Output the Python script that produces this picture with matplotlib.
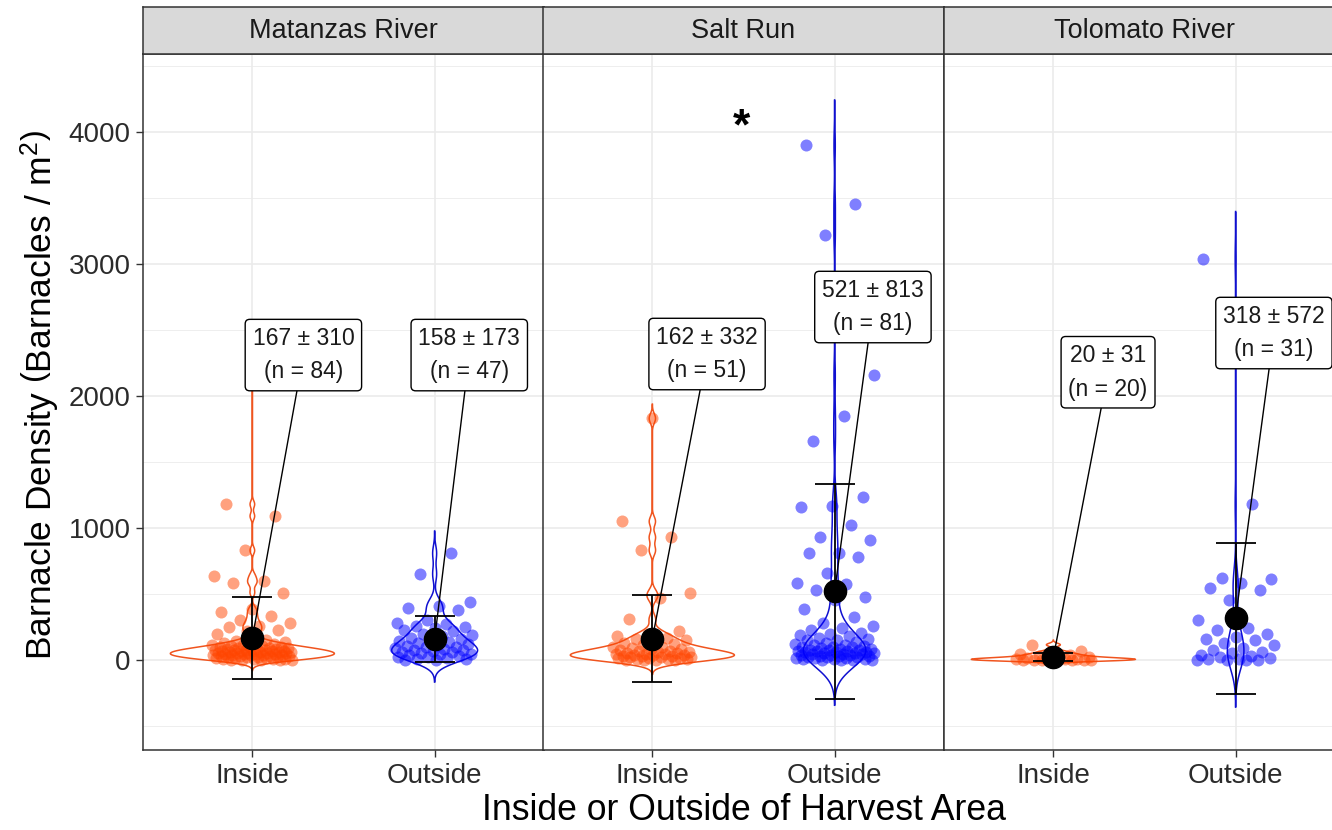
import numpy as np
import matplotlib
matplotlib.use("Agg")
import matplotlib.pyplot as plt

plt.rcParams['font.family'] = ['Liberation Sans', 'DejaVu Sans']
plt.rcParams['mathtext.fontset'] = 'custom'
plt.rcParams['mathtext.rm'] = 'Liberation Sans'
plt.rcParams['mathtext.it'] = 'Liberation Sans:italic'

rivers = ["Matanzas River", "Salt Run", "Tolomato River"]
areas = ["Inside", "Outside"]

# barnacle densities read off the jittered points (approximate)
matanzas_inside = [2250, 1180, 1090, 830, 640, 600, 580, 510, 390, 360, 330, 300, 280, 260,
                   250, 230, 220, 200,
                   0, 0, 0, 0, 3, 5, 8, 10, 10, 12, 15, 18, 20, 20, 22, 25, 28, 30, 30, 32,
                   35, 36, 38, 40, 40, 42, 45, 46, 48, 50, 50, 52, 55, 56, 58, 60, 60, 62,
                   65, 66, 68, 70, 70, 72, 75, 76, 78, 80, 82, 85, 88, 90, 92, 95, 98, 100,
                   104, 108, 112, 115, 120, 125, 130, 138, 145, 152]
matanzas_outside = [810, 650, 440, 410, 395, 380, 300, 280, 270, 260, 250, 240, 230, 220,
                    200, 190, 180,
                    0, 0, 4, 9, 15, 22, 26, 31, 38, 42, 47, 53, 58, 61, 66, 72, 78, 83, 88,
                    95, 101, 107, 114, 122, 129, 136, 143, 151, 160, 168]
salt_inside = [1830, 1050, 930, 830, 510, 470, 310,
               0, 0, 0, 2, 5, 8, 10, 12, 15, 18, 20, 22, 25, 28, 30, 32, 35, 38, 40, 42,
               45, 48, 50, 55, 60, 62, 65, 70, 75, 80, 85, 90, 95, 100, 110, 120, 130, 140,
               150, 160, 170, 180, 200, 220]
salt_outside = [3900, 3455, 3220, 2160, 1850, 1660, 1235, 1165, 1160, 1025, 930, 910, 810,
                810, 780, 660, 585, 575, 530, 480, 455, 385, 325, 280, 230, 205, 200, 180,
                160, 150, 140, 120, 115, 100,
                0, 0, 0, 0, 5, 8, 10, 12, 15, 18, 20, 22, 25, 28, 30, 32, 35, 38, 40, 42,
                45, 48, 50, 52, 55, 58, 60, 62, 65, 68, 70, 72, 75, 78, 80, 85, 90, 95,
                100, 105, 110, 130, 150, 170, 190, 240, 260]
tolomato_inside = [115, 70, 55, 45, 40, 30, 25, 20, 15, 10, 10, 5, 5, 0, 0, 0, 0, 0, 0, 0]
tolomato_outside = [3040, 1180, 620, 610, 585, 545, 530, 455, 300, 240, 230, 200, 175, 160,
                    150, 130, 110, 90, 75, 60, 50, 40, 30, 20, 15, 10, 5, 0, 0, 0, 0]

groups = [[matanzas_inside, matanzas_outside],
          [salt_inside, salt_outside],
          [tolomato_inside, tolomato_outside]]

# summary statistics printed in the labels
means = [[167, 158], [162, 521], [20, 318]]
sds = [[310, 173], [332, 813], [31, 572]]
ns = [[84, 47], [51, 81], [20, 31]]

# label placement (x offset from category, y in data units)
label_pos = [[(0.28, 2310), (0.19, 2310)],
             [(0.30, 2318), (0.21, 2674)],
             [(0.30, 2180), (0.21, 2477)]]
# start phase of the deterministic jitter for each group
jitter_phase = [[0.55, 0.70], [0.50, 0.14], [0.23, 0.09]]

fill_cols = ["#FF4500", "#0000FF"]
line_cols = ["#F0541E", "#1010D0"]


def nrd0(v):
    v = np.asarray(v, float)
    q75, q25 = np.percentile(v, [75, 25])
    lo = min(np.std(v, ddof=1), (q75 - q25) / 1.34)
    if lo == 0:
        lo = np.std(v, ddof=1) or abs(v[0]) or 1
    return 0.9 * lo * len(v) ** -0.2


def kde(v):
    v = np.asarray(v, float)
    bw = nrd0(v)
    grid = np.linspace(v.min() - 3 * bw, v.max() + 3 * bw, 512)
    d = np.exp(-0.5 * ((grid[:, None] - v[None, :]) / bw) ** 2).sum(1)
    d /= len(v) * bw * np.sqrt(2 * np.pi)
    return grid, d


W, H = 1332, 830
panel_left = [143, 543, 944]
panel_w = 401
top, bottom, strip_top = 54, 750, 7

fig = plt.figure(figsize=(13.32, 8.30), dpi=100)

for p, river in enumerate(rivers):
    ax = fig.add_axes([panel_left[p] / W, 1 - bottom / H, panel_w / W, (bottom - top) / H])
    ax.set_xlim(0.4, 2.6)
    ax.set_ylim(-682, 4591)
    ax.set_yticks([0, 1000, 2000, 3000, 4000])
    ax.set_yticks(np.arange(-500, 4600, 1000), minor=True)
    ax.set_xticks([1, 2])
    ax.set_xticklabels(areas)
    ax.grid(which='major', color='#EBEBEB', lw=1.2)
    ax.grid(which='minor', axis='y', color='#EBEBEB', lw=0.6)
    ax.set_axisbelow(True)
    for s in ax.spines.values():
        s.set_color('#333333')
        s.set_linewidth(1.1)
    ax.tick_params(axis='both', which='major', length=5, width=1, color='#333333',
                   labelsize=20, labelcolor='#2b2b2b', pad=4)
    ax.tick_params(axis='y', which='minor', length=0)
    if p > 0:
        ax.tick_params(axis='y', which='major', length=0, labelleft=False)

    kdes = [kde(g) for g in groups[p]]
    dmax = max(d.max() for _, d in kdes)
    for j in range(2):
        xc = j + 1
        grid, d = kdes[j]
        half = 0.45 * d / dmax
        xs = np.concatenate([xc - half, (xc + half)[::-1], [xc - half[0]]])
        ys = np.concatenate([grid, grid[::-1], [grid[0]]])
        ax.fill(xs, ys, facecolor='white', edgecolor=line_cols[j], lw=1.1, zorder=2)

        # deterministic jitter, largest value first
        vals = np.sort(np.asarray(groups[p][j], float))[::-1]
        k = np.arange(len(vals))
        jit = ((k * 0.6180339887 + jitter_phase[p][j]) % 1.0 - 0.5) * 0.44
        ax.scatter(xc + jit, vals, s=75, color=fill_cols[j], alpha=0.5, lw=0, zorder=3)

        m, sd = means[p][j], sds[p][j]
        ax.vlines(xc, m - sd, m + sd, color='black', lw=1.3, zorder=4)
        ax.hlines([m - sd, m + sd], xc - 0.11, xc + 0.11, color='black', lw=1.3, zorder=4)
        ax.plot(xc, m, 'o', color='black', ms=16, zorder=5)

        dx, ly = label_pos[p][j]
        ax.plot([xc, xc + dx], [m, ly], color='black', lw=1, zorder=6)
        ax.text(xc + dx, ly, f"{m} \u00b1 {sd}\n(n = {ns[p][j]})", ha='center', va='center',
                fontsize=16.5, linespacing=1.6, color='#1A1A1A', zorder=7,
                bbox=dict(boxstyle='round,pad=0.32,rounding_size=0.2', fc='white',
                          ec='black', lw=1))

    if river == "Salt Run":
        ax.text(1.49, 4030, '*', fontsize=32, fontweight='bold', ha='center', va='center',
                zorder=8)

    sax = fig.add_axes([panel_left[p] / W, 1 - top / H, panel_w / W, (top - strip_top) / H])
    sax.set_facecolor('#D9D9D9')
    sax.set_xticks([])
    sax.set_yticks([])
    for s in sax.spines.values():
        s.set_color('#333333')
        s.set_linewidth(1.1)
    sax.text(0.5, 0.5, river, ha='center', va='center', fontsize=19.5, color='#1A1A1A',
             transform=sax.transAxes)

fig.text(744 / W, 1 - 810 / H, "Inside or Outside of Harvest Area", ha='center',
         va='center', fontsize=25.7)
fig.text(40 / W, 1 - 395 / H,
         r"Barnacle Density $\left(\mathrm{Barnacles\ /\ m}^{2}\right)$",
         ha='center', va='center', rotation=90, fontsize=25.5)

fig.savefig("out.png", dpi=100)
